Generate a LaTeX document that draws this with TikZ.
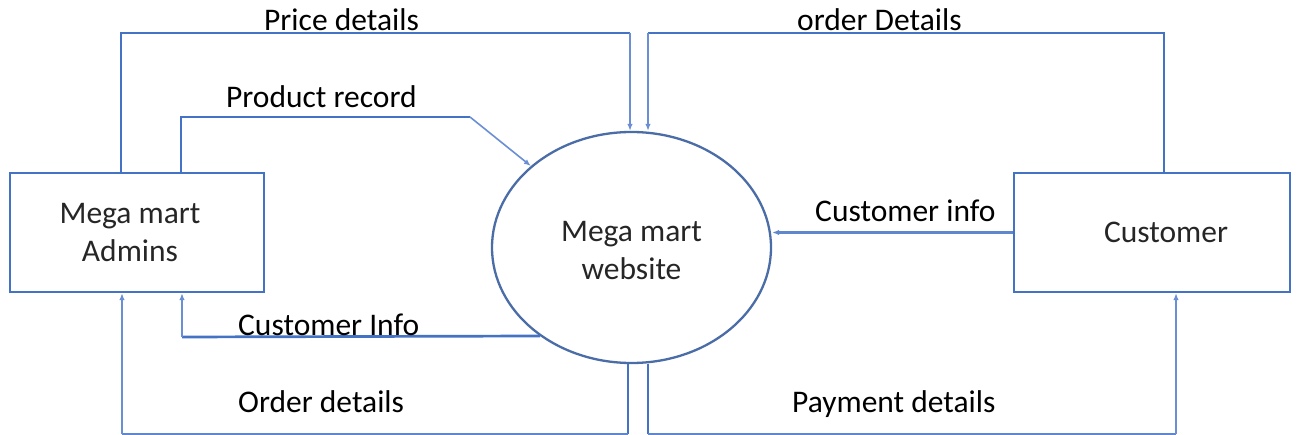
\documentclass[tikz,border=0pt]{standalone}
\usepackage{fontspec}
\setmainfont{Carlito}
\usetikzlibrary{arrows.meta,shapes.geometric}
\definecolor{mainblue}{HTML}{4472C4}
\definecolor{lightblue}{HTML}{6A8FD4}
\definecolor{ellblue}{HTML}{4A6DA7}
\definecolor{nodetext}{HTML}{262626}
\begin{document}
\begin{tikzpicture}[x=1pt,y=-1pt,
  every node/.style={font=\fontsize{31.5}{38}\selectfont},
  entity/.style={draw=mainblue,line width=2.3pt,minimum width=254pt,minimum height=119pt,
    inner sep=0pt,align=center,text=nodetext},
  process/.style={ellipse,draw=ellblue,line width=2.3pt,minimum width=279pt,minimum height=231pt,
    inner sep=0pt,align=center,text=nodetext},
  flowline/.style={draw=mainblue,line width=2.7pt},
  flowmid/.style={draw=mainblue!85,line width=2.1pt},
  flowarrow/.style={draw=lightblue,line width=1.6pt,-{Latex[length=7pt,width=5.5pt]}},
  flowlabel/.style={anchor=base west,inner sep=0pt,text=black}]
\useasboundingbox (0,0) rectangle (1303,435);
\fill[white] (0,0) rectangle (1303,435);

% nodes
\node[entity] (adm) at (137,232.5) {Mega mart\rule{14pt}{0pt}\\Admins\rule{14pt}{0pt}};
\node[entity,minimum width=276pt] (cust) at (1152,232.5) {\rule{28pt}{0pt}Customer};
\node[process] (web) at (631.5,247.5) {\rule{0pt}{26pt}Mega mart\\website};

% bend coordinates
\coordinate (pd1) at (121,33);
\coordinate (pd2) at (630,33);
\coordinate (od1) at (1164,33);
\coordinate (od2) at (648,33);
\coordinate (pr1) at (181,117);
\coordinate (pr2) at (470,117);
\coordinate (ci1) at (182,337);
\coordinate (ob1) at (628,434);
\coordinate (ob2) at (122,434);
\coordinate (pb1) at (648,434);
\coordinate (pb2) at (1176,434);

% Price details
\draw[flowline] (adm.north -| pd1) -- (pd1) -- (pd2);
\draw[flowarrow] (pd2) -- (web.north -| pd2);
% order Details
\draw[flowline] (cust.north -| od1) -- (od1) -- (od2);
\draw[flowarrow] (od2) -- (web.north -| od2);
% Product record
\draw[flowline] (adm.north -| pr1) -- (pr1) -- (pr2);
\draw[flowarrow] (pr2) -- (web.141);
% Customer info (right)
\draw[flowmid,-{Latex[length=7pt,width=5.5pt]}] (cust.west) -- (cust.west -| web.east);
% Customer Info (left)
\draw[flowline] (web.224) -- (ci1);
\draw[flowarrow] (ci1) -- (adm.south -| ci1);
% Order details (bottom)
\draw[flowline] (web.south -| ob1) -- (ob1);
\draw[flowmid] (ob1) -- (ob2);
\draw[flowarrow] (ob2) -- (adm.south -| ob2);
% Payment details
\draw[flowline] (web.south -| pb1) -- (pb1);
\draw[flowmid] (pb1) -- (pb2);
\draw[flowarrow] (pb2) -- (cust.south -| pb2);

% labels
\node[flowlabel] (lpd) at (264,31) {Price details};
\node[flowlabel] (lod) at (797,31) {order Details};
\node[flowlabel] (lpr) at (226,108) {Product record};
\node[flowlabel] (lci) at (815,222) {Customer info};
\node[flowlabel] (lci2) at (238,335) {Customer Info};
\node[flowlabel] (lob) at (238,412) {Order details};
\node[flowlabel] (lpb) at (792,412) {Payment details};
\end{tikzpicture}
\end{document}
